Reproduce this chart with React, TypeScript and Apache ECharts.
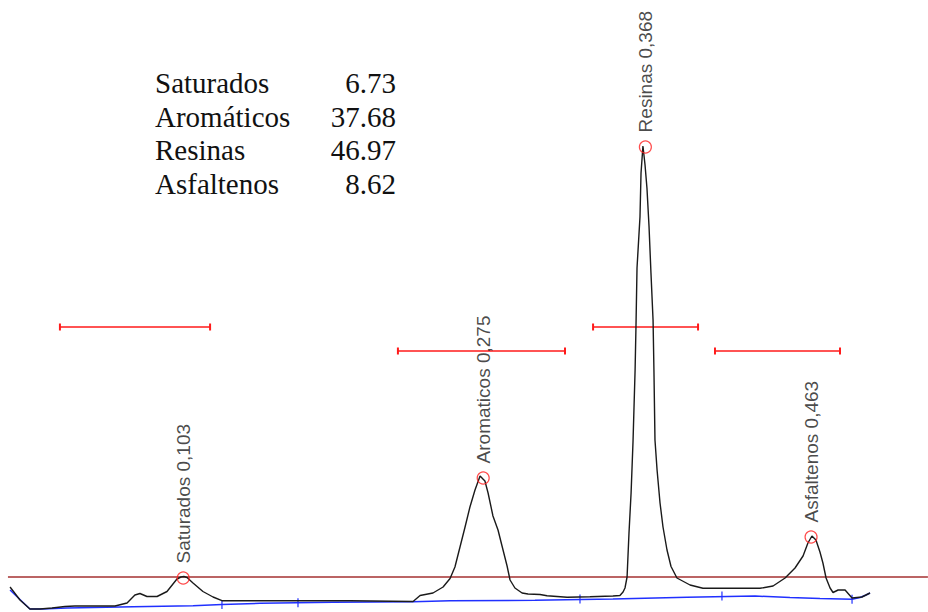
import React, { useEffect, useRef } from 'react';
import * as echarts from 'echarts';

// Chromatogram trace (time in minutes, signal in arbitrary units)
const traceTime = [
  0.0037, 0.0094, 0.0151, 0.0209, 0.0278, 0.0352, 0.0409, 0.0495, 0.0639, 0.0708,
  0.0753, 0.0782, 0.0822, 0.0880, 0.0937, 0.0994, 0.1017, 0.1034, 0.1052, 0.1086,
  0.1143, 0.1201, 0.1252, 0.1986, 0.2348, 0.2388, 0.2462, 0.2520, 0.2560, 0.2588,
  0.2617, 0.2646, 0.2674, 0.2703, 0.2732, 0.2760, 0.2778, 0.2806, 0.2835, 0.2858,
  0.2887, 0.2904, 0.2932, 0.2973, 0.3007, 0.3076, 0.3116, 0.3231, 0.3362, 0.3494,
  0.3534, 0.3552, 0.3563, 0.3575, 0.3586, 0.3598, 0.3609, 0.3621, 0.3626, 0.3632,
  0.3649, 0.3655, 0.3666, 0.3678, 0.3689, 0.3701, 0.3712, 0.3724, 0.3729, 0.3735,
  0.3747, 0.3764, 0.3781, 0.3804, 0.3827, 0.3861, 0.3936, 0.4010, 0.4337, 0.4412,
  0.4481, 0.4538, 0.4584, 0.4612, 0.4635, 0.4658, 0.4681, 0.4698, 0.4716, 0.4739,
  0.4756, 0.4785, 0.4825, 0.4865, 0.4922, 0.4968,
];
const traceSignal = [
  25, 12, 3, 3, 4, 5.5, 6, 6, 6, 9,
  17, 18.5, 15.5, 15.5, 20.5, 33, 35, 35.5, 34.5, 29,
  20.5, 15, 11.3, 11.3, 10.5, 16.5, 19, 25, 33.5, 45,
  65, 85, 105, 122, 136, 131, 119, 96, 82, 66,
  46, 32, 24, 19, 18, 17.5, 16.3, 14.7, 15.3, 16,
  16.5, 20, 24, 35, 79, 119, 170, 242, 285, 344,
  395, 439, 466, 447, 424, 385, 339, 292, 242, 172,
  142, 109, 85, 62, 45.5, 34, 27, 23.7, 23.7, 26,
  34, 44, 56, 69, 76, 72, 60, 49, 34, 24,
  19.5, 22, 22, 14, 15, 19,
];

// Baseline (blue)
const baselineTime = [
  0.0037, 0.0151, 0.0220, 0.0364, 0.0742, 0.1086, 0.1252, 0.1470, 0.1889, 0.2348,
  0.2560, 0.3047, 0.3494, 0.3919, 0.4309, 0.4509, 0.4681, 0.4865, 0.4911, 0.4945, 0.4968,
];
const baselineSignal = [
  22, 3, 3, 4, 5.3, 6.3, 7.5, 8.7, 9.7, 10.3,
  11.3, 11.7, 13, 14.7, 16, 14.5, 13.5, 12.7, 14.5, 17, 19,
];

// Peak start/end ticks on the baseline
const tickTimes = [0.1252, 0.1688, 0.3305, 0.4119, 0.4865];
const tickLevels = [7.5, 9.2, 13, 16, 12.7];

// Peaks
const peakNames = ['Saturados', 'Aromaticos', 'Resinas', 'Asfaltenos'];
const peakTimes = [0.103, 0.275, 0.368, 0.463];
const peakHeights = [34, 134, 465, 75];

// Threshold line
const thresholdLevel = 35;
const thresholdRange = [0.0025, 0.53];

// Integration windows
const windowStarts = [0.0323, 0.2261, 0.338, 0.4079];
const windowEnds = [0.1184, 0.3219, 0.3982, 0.4796];
const windowLevels = [285, 261, 285, 261];

// Results table
const tableNames = ['Saturados', 'Aromáticos', 'Resinas', 'Asfaltenos'];
const tableValues = ['6.73', '37.68', '46.97', '8.62'];

export default function App() {
  const ref = useRef<HTMLDivElement>(null);

  useEffect(() => {
    if (!ref.current) return;
    const chart = echarts.init(ref.current, null, { renderer: 'svg' });

    const windowSeries = windowStarts.map((s, i) => ({
      type: 'line',
      data: [[s, windowLevels[i]], [windowEnds[i], windowLevels[i]]],
      symbol: 'rect',
      symbolSize: [2, 7],
      showSymbol: true,
      lineStyle: { color: '#ff1a1a', width: 1.6 },
      itemStyle: { color: '#ff1a1a' },
      silent: true,
      z: 3,
    }));

    const graphic: any[] = [];
    tableNames.forEach((n, i) => {
      const y = 83 + i * 33.5;
      graphic.push({
        type: 'text',
        x: 155,
        y,
        style: {
          text: n,
          font: '29px "Liberation Serif", "Times New Roman", serif',
          fill: '#111',
          align: 'left',
          verticalAlign: 'middle',
        },
      });
      graphic.push({
        type: 'text',
        x: 396,
        y,
        style: {
          text: tableValues[i],
          font: '29px "Liberation Serif", "Times New Roman", serif',
          fill: '#111',
          align: 'right',
          verticalAlign: 'middle',
        },
      });
    });

    chart.setOption({
      animation: false,
      backgroundColor: '#ffffff',
      grid: { left: 0, right: 0, top: 0, bottom: 0 },
      xAxis: {
        type: 'value',
        min: -0.00206,
        max: 0.53005,
        show: false,
      },
      yAxis: {
        type: 'value',
        min: 0,
        max: 612,
        show: false,
      },
      graphic,
      series: [
        {
          type: 'line',
          data: [[thresholdRange[0], thresholdLevel], [thresholdRange[1], thresholdLevel]],
          showSymbol: false,
          lineStyle: { color: '#a53030', width: 1.5 },
          silent: true,
          z: 1,
        },
        {
          type: 'line',
          data: baselineTime.map((t, i) => [t, baselineSignal[i]]),
          showSymbol: false,
          lineStyle: { color: '#2030ff', width: 1.5 },
          silent: true,
          z: 2,
        },
        {
          type: 'scatter',
          data: tickTimes.map((t, i) => [t, tickLevels[i]]),
          symbol: 'rect',
          symbolSize: [1.5, 9],
          itemStyle: { color: '#2030ff' },
          silent: true,
          z: 2,
        },
        {
          type: 'line',
          data: traceTime.map((t, i) => [t, traceSignal[i]]),
          showSymbol: false,
          lineStyle: { color: '#1a1a1a', width: 1.4 },
          silent: true,
          z: 4,
        },
        ...windowSeries,
        {
          type: 'scatter',
          data: peakTimes.map((t, i) => ({ value: [t, peakHeights[i]], name: peakNames[i] })),
          symbol: 'circle',
          symbolSize: 12,
          itemStyle: { color: 'rgba(0,0,0,0)', borderColor: '#ff2020', borderWidth: 1.2 },
          label: {
            show: true,
            position: 'top',
            distance: 8,
            rotate: 90,
            align: 'left',
            verticalAlign: 'middle',
            fontFamily: '"Liberation Sans", Arial, sans-serif',
            fontSize: 19,
            color: '#1a1a1a',
            formatter: (p: any) => `${p.name} ${p.value[0].toFixed(3).replace('.', ',')}`,
          },
          silent: true,
          z: 5,
        },
      ],
    });

    return () => chart.dispose();
  }, []);

  return (
    <div
      ref={ref}
      style={{ position: 'absolute', left: 0, top: 0, width: 928, height: 612 }}
    />
  );
}
